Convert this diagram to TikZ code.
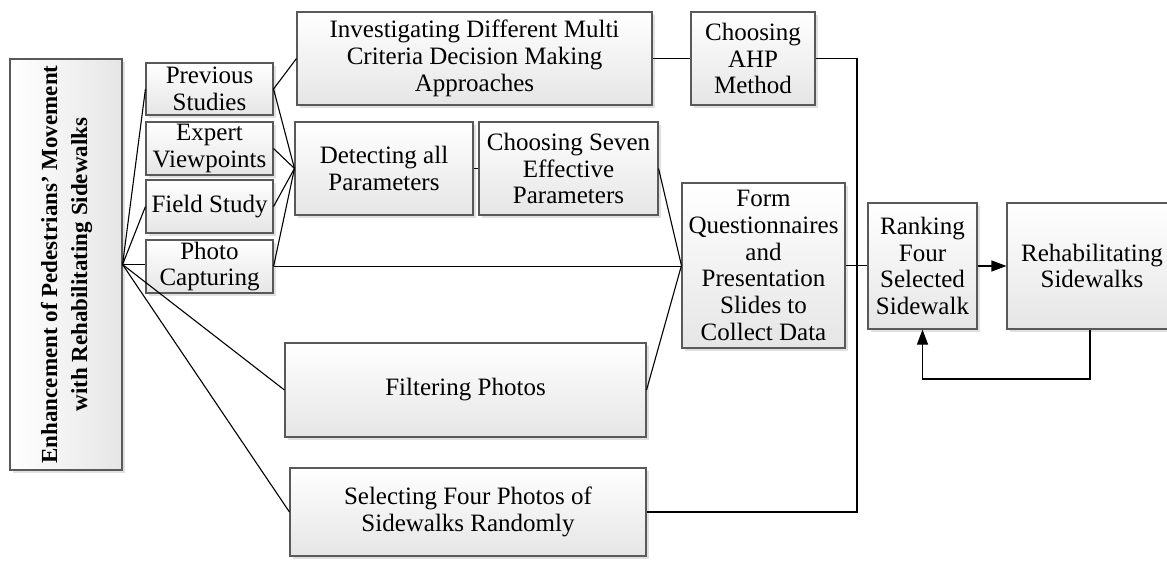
\documentclass[tikz,border=0pt]{standalone}
\usepackage{fontspec}
\setmainfont{Liberation Serif}
\usetikzlibrary{arrows.meta,shadows}
\begin{document}
\begin{tikzpicture}[x=1pt,y=1pt,
  box/.style={draw=black!65, line width=1.1pt, top color=white, bottom color=black!10,
    general shadow={fill=black!12, shadow xshift=3pt, shadow yshift=-3pt},
    inner sep=0pt, align=center, font=\fontsize{25}{26.7}\selectfont},
  conn/.style={line width=1.1pt, draw=black},
  arr/.style={conn, -{Triangle[length=15pt,width=11pt]}}]
\useasboundingbox (0,0) rectangle (1167,-560);

% root box
\node[box, left color=white, right color=black!10, minimum width=112pt, minimum height=411pt,
  font=\fontsize{23}{30}\selectfont\bfseries] (root) at (66,-264.5)
  {\rotatebox{90}{\begin{tabular}{@{}c@{}}Enhancement of Pedestrians’ Movement\\with Rehabilitating Sidewalks\end{tabular}}};

% first column
\node[box, minimum width=127pt, minimum height=52pt] (prev) at (209.5,-89) {Previous\\Studies};
\node[box, minimum width=127pt, minimum height=53pt] (exp) at (209.5,-148.5) {Expert\\Viewpoints};
\node[box, minimum width=127pt, minimum height=53pt] (field) at (209.5,-206.5) {Field Study};
\node[box, minimum width=127pt, minimum height=53pt] (photo) at (209.5,-266.5) {Photo\\Capturing};

% upper boxes
\node[box, minimum width=355pt, minimum height=93pt] (inv) at (474.5,-58.5) {Investigating Different Multi\\Criteria Decision Making\\Approaches};
\node[box, minimum width=124pt, minimum height=93pt] (ahp) at (753,-58.5) {Choosing\\AHP\\Method};
\node[box, minimum width=178pt, minimum height=93pt] (det) at (384,-168.5) {Detecting all\\Parameters};
\node[box, minimum width=179pt, minimum height=93pt] (seven) at (568.5,-168.5) {Choosing Seven\\Effective\\Parameters};

% lower boxes
\node[box, minimum width=361pt, minimum height=94pt] (filt) at (465.5,-390) {Filtering Photos};
\node[box, minimum width=356pt, minimum height=88pt] (sel) at (468,-512) {Selecting Four Photos of\\Sidewalks Randomly};

% right part
\node[box, minimum width=163pt, minimum height=165pt] (form) at (763.5,-265.5) {Form\\Questionnaires\\and\\Presentation\\Slides to\\Collect Data};
\node[box, minimum width=109pt, minimum height=126pt] (rank) at (922.5,-266) {Ranking\\Four\\Selected\\Sidewalk};
\node[box, minimum width=170pt, minimum height=126pt] (rehab) at (1092,-266) {Rehabilitating\\Sidewalks};

\coordinate (vx) at (857,0);
\coordinate (fb) at (0,-379);

% connectors from root
\draw[conn] (root.east) -- (prev.west);
\draw[conn] (root.east) -- (field.west);
\draw[conn] (root.east) -- (root.east -| photo.west);
\draw[conn] (root.east) -- (filt.west);
\draw[conn] (root.east) -- (sel.west);

% first column to second
\draw[conn] (prev.east) -- (inv.west);
\draw[conn] (prev.east) -- (det.west);
\draw[conn] (exp.east) -- (det.west);
\draw[conn] (field.east) -- (det.west);
\draw[conn] (photo.east) -- (det.west);
\draw[conn] (photo.east) -- (photo.east -| form.west);

\draw[conn] (det.east) -- (seven.west);
\draw[conn] (seven.east) -- (form.west);
\draw[conn] (filt.east) -- (form.west);
\draw[conn] (inv.east) -- (ahp.west);

\draw[conn] (ahp.east) -- (ahp.east -| vx) -- (vx |- sel.east) -- (sel.east);
\draw[conn] (form.east) -- (form.east -| rank.west);
\draw[arr] (rank.east) -- (rank.east -| rehab.west);
\draw[arr] (rehab.south -| 1090,0) -- (fb -| 1090,0) -- (fb -| rank.south) -- (rank.south);
\end{tikzpicture}
\end{document}
